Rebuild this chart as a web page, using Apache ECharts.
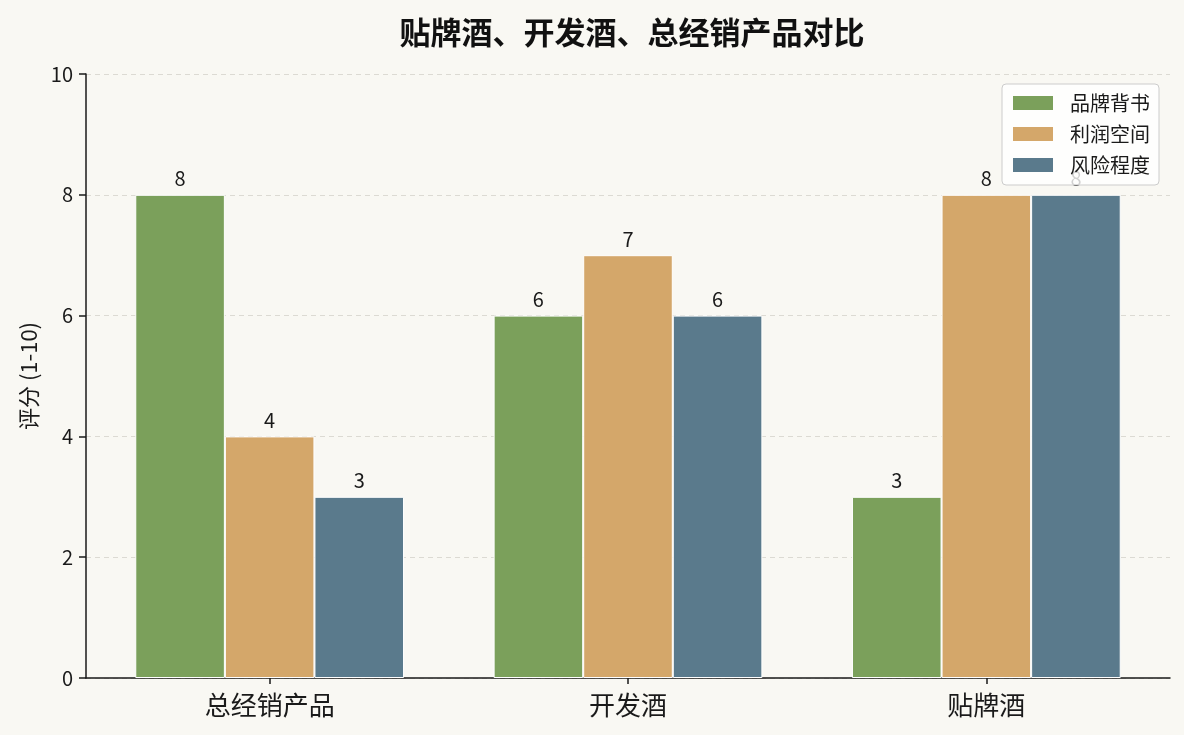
<!DOCTYPE html>
<html>
<head>
<meta charset="utf-8">
<script src="https://cdn.jsdelivr.net/npm/echarts@6/dist/echarts.min.js"></script>
<style>
html,body{margin:0;padding:0;background:#f9f8f3;}
#chart{width:1184px;height:735px;}
</style>
</head>
<body>
<div id="chart"></div>
<script>
const categories = ['总经销产品', '开发酒', '贴牌酒'];
const seriesNames = ['品牌背书', '利润空间', '风险程度'];
const brandValues = [8, 6, 3];
const profitValues = [4, 7, 8];
const riskValues = [3, 6, 8];
const yTicks = [0, 2, 4, 6, 8, 10];
const colors = ['#7ba05b', '#d4a76a', '#5a7a8c'];

const font = '"Noto Sans CJK SC", "Noto Sans", sans-serif';
const chart = echarts.init(document.getElementById('chart'), null, {renderer: 'canvas'});

function mk(name, vals, color) {
  return {
    name: name,
    type: 'bar',
    data: vals.map((v, i) => [i, v]),
    barWidth: '25%',
    barGap: '0%',
    itemStyle: {color: color, borderColor: '#ffffff', borderWidth: 1},
    label: {
      show: true, position: 'top', distance: 6,
      color: '#1a1a1a', fontSize: 20, fontFamily: font,
      formatter: p => p.value[1]
    },
    emphasis: {disabled: true}
  };
}

chart.setOption({
  backgroundColor: '#f9f8f3',
  animation: false,
  textStyle: {fontFamily: font},
  title: {
    text: '贴牌酒、开发酒、总经销产品对比',
    left: 627, top: 12, textAlign: 'center',
    textStyle: {fontFamily: font, fontSize: 31, fontWeight: 'bold', color: '#111'}
  },
  legend: {
    orient: 'vertical',
    right: 25, top: 84,
    padding: [9, 9, 10, 11],
    itemWidth: 40, itemHeight: 14, itemGap: 11,
    backgroundColor: 'rgba(255,255,255,0.8)',
    borderColor: '#cccccc', borderWidth: 1, borderRadius: 4,
    textStyle: {fontFamily: font, fontSize: 20, color: '#1a1a1a', padding: [0, 0, 0, 12]},
    itemStyle: {borderWidth: 0},
    data: seriesNames.map(n => ({name: n, icon: 'rect'}))
  },
  grid: {left: 86, right: 14, top: 74, bottom: 57, containLabel: false},
  xAxis: {
    type: 'value',
    min: -0.5125, max: 2.5125,
    splitLine: {show: false},
    axisLine: {show: true, onZero: false, lineStyle: {color: '#1a1a1a', width: 1.5}},
    axisTick: {show: true, customValues: [0, 1, 2], length: 6, lineStyle: {color: '#1a1a1a', width: 1.5}},
    axisLabel: {
      customValues: [0, 1, 2],
      formatter: v => categories[Math.round(v)],
      fontSize: 26, color: '#1a1a1a', fontFamily: font, margin: 14
    }
  },
  yAxis: {
    type: 'value',
    min: 0, max: 10, interval: 2,
    name: '评分 (1-10)',
    nameLocation: 'middle', nameRotate: 90, nameGap: 46,
    nameTextStyle: {fontFamily: font, fontSize: 22, color: '#1a1a1a'},
    axisLine: {show: true, onZero: false, lineStyle: {color: '#1a1a1a', width: 1.5}},
    axisTick: {show: true, length: 7, lineStyle: {color: '#1a1a1a', width: 1.5}},
    axisLabel: {fontSize: 20, color: '#1a1a1a', fontFamily: font, margin: 13,
      formatter: v => yTicks.includes(v) ? String(v) : ''},
    splitLine: {show: true, lineStyle: {color: '#dcdad3', type: [5, 4], width: 1}}
  },
  series: [
    mk(seriesNames[0], brandValues, colors[0]),
    mk(seriesNames[1], profitValues, colors[1]),
    mk(seriesNames[2], riskValues, colors[2])
  ]
});
</script>
</body>
</html>
